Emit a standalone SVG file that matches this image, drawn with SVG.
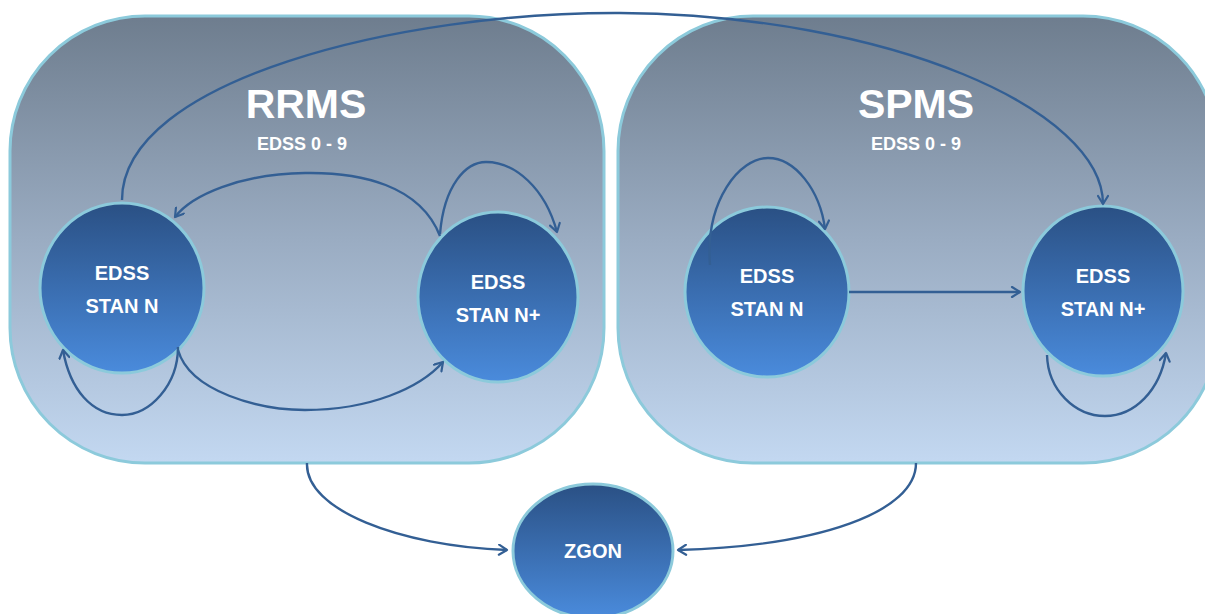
<svg xmlns="http://www.w3.org/2000/svg" width="1205" height="614" viewBox="0 0 1205 614">
  <defs>
    <linearGradient id="panelFill" x1="0" y1="0" x2="0" y2="1">
      <stop offset="0" stop-color="#6e7d8e"/>
      <stop offset="0.5" stop-color="#9aacc2"/>
      <stop offset="1" stop-color="#c3d8f1"/>
    </linearGradient>
    <linearGradient id="stateFill" x1="0" y1="0" x2="0" y2="1">
      <stop offset="0" stop-color="#2a5084"/>
      <stop offset="1" stop-color="#4a8bdc"/>
    </linearGradient>
    <marker id="arrow" viewBox="0 0 12 12" refX="10" refY="6" markerWidth="12" markerHeight="12" markerUnits="userSpaceOnUse" orient="auto">
      <path d="M2,1 L10,6 L2,11" fill="none" stroke="#335f94" stroke-width="2.2" stroke-linecap="round" stroke-linejoin="round"/>
    </marker>
    <style>
      .panel { fill: url(#panelFill); stroke: #8ccadb; stroke-width: 3; }
      .state { fill: url(#stateFill); stroke: #8ccadb; stroke-width: 3; }
      .title { font-family: "Liberation Sans", Arial, sans-serif; font-weight: bold; font-size: 41px; fill: #ffffff; text-anchor: middle; }
      .range { font-family: "Liberation Sans", Arial, sans-serif; font-weight: bold; font-size: 18px; fill: #ffffff; text-anchor: middle; }
      .label { font-family: "Liberation Sans", Arial, sans-serif; font-weight: bold; font-size: 20px; fill: #ffffff; text-anchor: middle; }
      .edge { fill: none; stroke: #335f94; stroke-width: 2.4; marker-end: url(#arrow); }
    </style>
  </defs>

  <!-- phase panels -->
  <g id="rrms">
    <rect class="panel" x="10" y="16" width="594" height="447" rx="135" ry="135"/>
    <text class="title" x="306" y="118">RRMS</text>
    <text class="range" x="302" y="150">EDSS 0 - 9</text>
  </g>
  <g id="spms">
    <rect class="panel" x="618" y="16" width="600" height="447" rx="135" ry="135"/>
    <text class="title" x="916" y="118">SPMS</text>
    <text class="range" x="916" y="150">EDSS 0 - 9</text>
  </g>

  <!-- states -->
  <g id="rrms-n">
    <ellipse class="state" cx="122" cy="288" rx="82" ry="85"/>
    <text class="label" x="122" y="280">EDSS</text>
    <text class="label" x="122" y="313">STAN N</text>
  </g>
  <g id="rrms-n-plus">
    <ellipse class="state" cx="498" cy="297" rx="80" ry="85"/>
    <text class="label" x="498" y="289">EDSS</text>
    <text class="label" x="498" y="322">STAN N+</text>
  </g>
  <g id="spms-n">
    <ellipse class="state" cx="767" cy="292" rx="82" ry="85"/>
    <text class="label" x="767" y="283">EDSS</text>
    <text class="label" x="767" y="316">STAN N</text>
  </g>
  <g id="spms-n-plus">
    <ellipse class="state" cx="1103" cy="291" rx="80" ry="85"/>
    <text class="label" x="1103" y="283">EDSS</text>
    <text class="label" x="1103" y="316">STAN N+</text>
  </g>
  <g id="zgon">
    <ellipse class="state" cx="593" cy="551" rx="80" ry="67"/>
    <text class="label" x="593" y="558">ZGON</text>
  </g>

  <!-- transitions -->
  <g id="connectors">
    <path class="edge" d="M122,200 C122,80 400,12 620,13 C890,15 1103,110 1103,204"/>
    <path class="edge" d="M440,236 C420,185 360,172 305,173 C240,174 192,195 175,217"/>
    <path class="edge" d="M440,234 C444,185 466,162 486,162 C515,162 545,188 557,232"/>
    <path class="edge" d="M178,347 C178,385 150,415 122,415 C92,415 70,390 63,350"/>
    <path class="edge" d="M178,350 C190,392 260,410 305,410 C370,410 420,388 443,362"/>
    <path class="edge" d="M710,265 C705,200 740,158 768,158 C795,158 820,190 825,229"/>
    <path class="edge" d="M849,292 L1020,292"/>
    <path class="edge" d="M1047,355 C1048,390 1075,416 1105,416 C1135,416 1160,390 1166,353"/>
    <path class="edge" d="M307,463 C305,510 400,546 507,550"/>
    <path class="edge" d="M916,463 C916,512 820,546 678,550"/>
  </g>
</svg>
